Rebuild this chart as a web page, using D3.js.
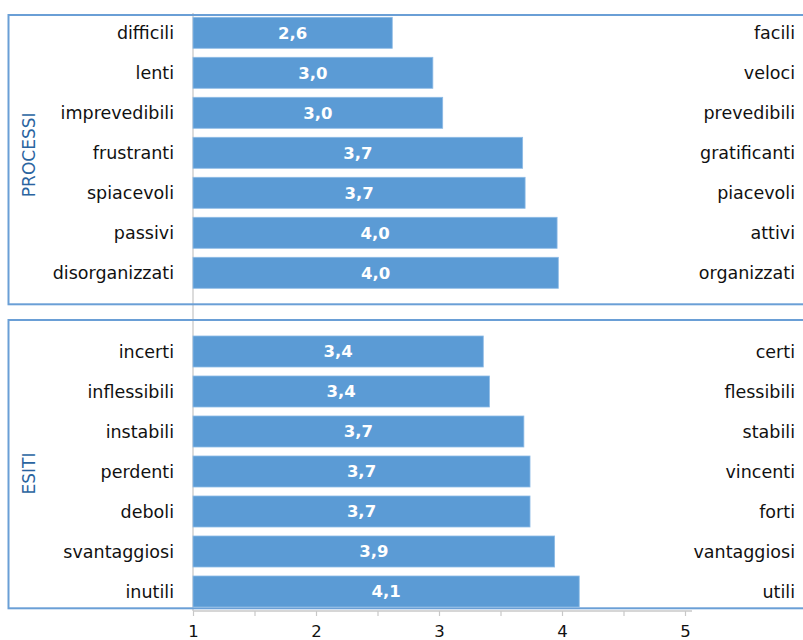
<!DOCTYPE html>
<html>
<head>
<meta charset="utf-8">
<script src="https://cdn.jsdelivr.net/npm/d3@7"></script>
<style>
  html, body { margin: 0; padding: 0; background: #fff; }
  svg { display: block; }
</style>
</head>
<body>
<svg id="chart" width="803" height="640"></svg>
<script>
// ---- data ----
const processiLeft  = ["difficili", "lenti", "imprevedibili", "frustranti", "spiacevoli", "passivi", "disorganizzati"];
const processiRight = ["facili", "veloci", "prevedibili", "gratificanti", "piacevoli", "attivi", "organizzati"];
const processiValues = [2.62, 2.95, 3.03, 3.68, 3.70, 3.96, 3.97];

const esitiLeft  = ["incerti", "inflessibili", "instabili", "perdenti", "deboli", "svantaggiosi", "inutili"];
const esitiRight = ["certi", "flessibili", "stabili", "vincenti", "forti", "vantaggiosi", "utili"];
const esitiValues = [3.36, 3.41, 3.69, 3.74, 3.74, 3.94, 4.14];

const groupNames = ["PROCESSI", "ESITI"];
const xTicks = [1, 2, 3, 4, 5];

// ---- layout ----
const svg = d3.select("#chart");
const x = d3.scaleLinear().domain([1, 5]).range([193, 685]);
const barColor = "#5b9bd5";
const boxColor = "#6a9fd6";
const font = "'DejaVu Sans', Verdana, sans-serif";
const fmt = v => d3.format(".1f")(v).replace(".", ",");

const panels = [
  { name: groupNames[0], left: processiLeft, right: processiRight, values: processiValues,
    box: [15, 304.3], band: [12.8, 292.8] },
  { name: groupNames[1], left: esitiLeft, right: esitiRight, values: esitiValues,
    box: [320, 608.3], band: [331.5, 611.5] }
];

// vertical gray base line
svg.append("line")
  .attr("x1", x(1)).attr("x2", x(1))
  .attr("y1", 13).attr("y2", 611)
  .attr("stroke", "#d0d0d0").attr("stroke-width", 1.5);

panels.forEach(p => {
  // box
  svg.append("rect")
    .attr("x", 8.5).attr("y", p.box[0])
    .attr("width", 805).attr("height", p.box[1] - p.box[0])
    .attr("fill", "none").attr("stroke", boxColor).attr("stroke-width", 2);

  const y = d3.scaleBand().domain(p.left).range(p.band)
    .paddingInner(0.225).paddingOuter(0.1125);

  const g = svg.append("g");
  const rows = p.left.map((l, i) => ({ l, r: p.right[i], v: p.values[i] }));

  g.selectAll("rect.bar").data(rows).join("rect")
    .attr("class", "bar")
    .attr("x", x(1))
    .attr("y", d => y(d.l))
    .attr("width", d => x(d.v) - x(1))
    .attr("height", y.bandwidth())
    .attr("fill", barColor)
    .attr("stroke", "#8dbbe6").attr("stroke-width", 0.8);

  g.selectAll("text.val").data(rows).join("text")
    .attr("class", "val")
    .attr("x", d => (x(1) + x(d.v)) / 2)
    .attr("y", d => y(d.l) + y.bandwidth() / 2)
    .attr("dy", "0.36em")
    .attr("text-anchor", "middle")
    .attr("fill", "#fff")
    .attr("font-family", font).attr("font-weight", "bold").attr("font-size", 16.5)
    .text(d => fmt(d.v));

  g.selectAll("text.lab").data(rows).join("text")
    .attr("class", "lab")
    .attr("x", 174)
    .attr("y", d => y(d.l) + y.bandwidth() / 2)
    .attr("dy", "0.36em")
    .attr("text-anchor", "end")
    .attr("fill", "#111")
    .attr("font-family", font).attr("font-size", 17.5)
    .text(d => d.l);

  g.selectAll("text.rlab").data(rows).join("text")
    .attr("class", "rlab")
    .attr("x", 795)
    .attr("y", d => y(d.l) + y.bandwidth() / 2)
    .attr("dy", "0.36em")
    .attr("text-anchor", "end")
    .attr("fill", "#111")
    .attr("font-family", font).attr("font-size", 17.5)
    .text(d => d.r);

  const cy = (p.band[0] + p.band[1]) / 2 + 2;
  svg.append("text")
    .attr("transform", `translate(29,${cy}) rotate(-90)`)
    .attr("text-anchor", "middle")
    .attr("dy", "0.36em")
    .attr("fill", "#2a64a0")
    .attr("font-family", font).attr("font-size", 17)
    .text(p.name);
});

// x axis
const axis = d3.axisBottom(x)
  .tickValues(d3.range(1, 5.01, 0.5))
  .tickSize(5)
  .tickFormat(d => xTicks.includes(d) ? d : "");
const ax = svg.append("g").attr("transform", "translate(0,611)").call(axis);
ax.select(".domain").remove();
ax.append("line").attr("x1", x(1)).attr("x2", x(5) + 7)
  .attr("stroke", "#c8c8c8").attr("stroke-width", 1.5);
ax.selectAll(".tick line").attr("stroke", "#c8c8c8").attr("stroke-width", 1.2);
ax.selectAll(".tick text")
  .attr("font-family", font).attr("font-size", 16.5)
  .attr("fill", "#111").attr("y", 14).attr("dy", "0.71em");
</script>
</body>
</html>
